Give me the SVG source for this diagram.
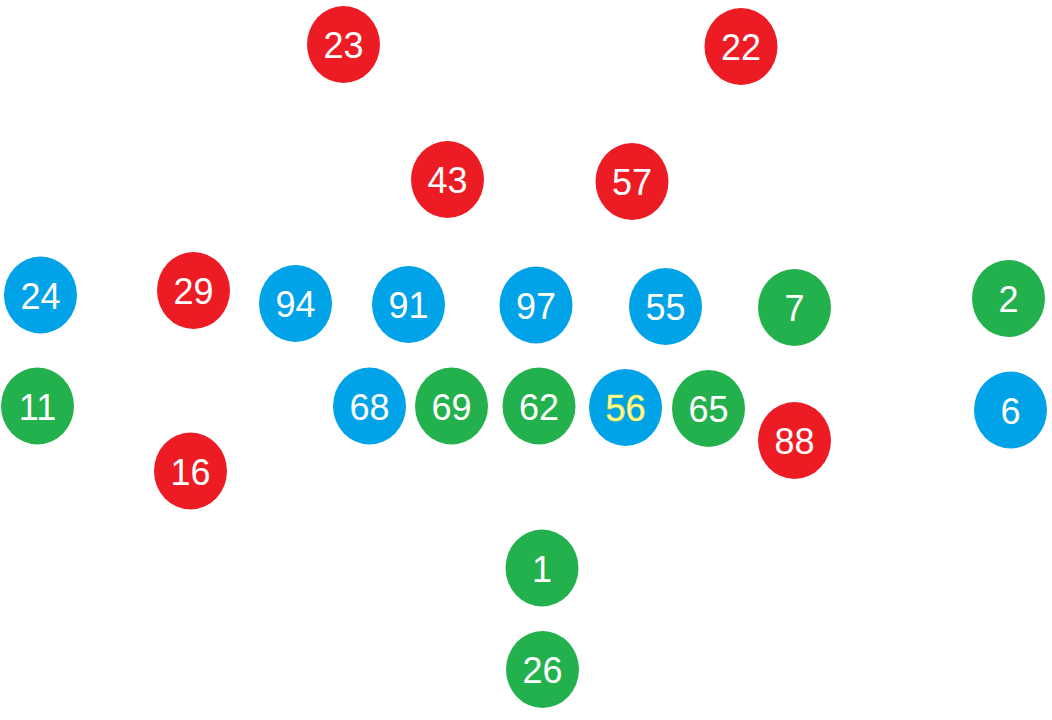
<svg xmlns="http://www.w3.org/2000/svg" width="1052" height="720" viewBox="0 0 1052 720">
<style>
.r{fill:#ED1C24}.b{fill:#00A2E8}.g{fill:#22B14C}
text{font-family:"Liberation Sans",Arial,sans-serif;font-size:36px;fill:#FFFFFF;text-anchor:middle}
.y{fill:#FFFFB0;stroke:#F2E600;stroke-width:0.6}
</style>
<rect width="1052" height="720" fill="#FFFFFF"/>
<g id="connectors"></g>
<g id="n23"><ellipse class="r" cx="343.5" cy="44.5" rx="36.5" ry="38.5"/><text x="343.5" y="58">23</text></g>
<g id="n22"><ellipse class="r" cx="741" cy="46.5" rx="36.5" ry="38.5"/><text x="741" y="60">22</text></g>
<g id="n43"><ellipse class="r" cx="447.5" cy="179.5" rx="36.5" ry="38.5"/><text x="447.5" y="193">43</text></g>
<g id="n57"><ellipse class="r" cx="632" cy="181.5" rx="36.5" ry="38.5"/><text x="632" y="195">57</text></g>
<g id="n24"><ellipse class="b" cx="40.5" cy="295" rx="36.5" ry="38.5"/><text x="40.5" y="308.5">24</text></g>
<g id="n29"><ellipse class="r" cx="193.5" cy="290.5" rx="36.5" ry="38.5"/><text x="193.5" y="304">29</text></g>
<g id="n94"><ellipse class="b" cx="295.5" cy="303.5" rx="36.5" ry="38.5"/><text x="295.5" y="317">94</text></g>
<g id="n91"><ellipse class="b" cx="408.5" cy="304.5" rx="36.5" ry="38.5"/><text x="408.5" y="318">91</text></g>
<g id="n97"><ellipse class="b" cx="536" cy="305" rx="36.5" ry="38.5"/><text x="536" y="318.5">97</text></g>
<g id="n55"><ellipse class="b" cx="665.5" cy="306.5" rx="36.5" ry="38.5"/><text x="665.5" y="320">55</text></g>
<g id="n7"><ellipse class="g" cx="794.5" cy="307.5" rx="36.5" ry="38.5"/><text x="794.5" y="321">7</text></g>
<g id="n2"><ellipse class="g" cx="1008.5" cy="298.5" rx="36.5" ry="38.5"/><text x="1008.5" y="312">2</text></g>
<g id="n11"><ellipse class="g" cx="37.5" cy="406" rx="36.5" ry="38.5"/><text x="37.5" y="419.5">11</text></g>
<g id="n68"><ellipse class="b" cx="369.5" cy="406" rx="36.5" ry="38.5"/><text x="369.5" y="419.5">68</text></g>
<g id="n69"><ellipse class="g" cx="451.5" cy="406" rx="36.5" ry="38.5"/><text x="451.5" y="419.5">69</text></g>
<g id="n62"><ellipse class="g" cx="539" cy="406" rx="36.5" ry="38.5"/><text x="539" y="419.5">62</text></g>
<g id="n56"><ellipse class="b" cx="625.5" cy="407.5" rx="36.5" ry="38.5"/><text class="y" x="625.5" y="421">56</text></g>
<g id="n65"><ellipse class="g" cx="708.5" cy="408.5" rx="36.5" ry="38.5"/><text x="708.5" y="422">65</text></g>
<g id="n88"><ellipse class="r" cx="794.5" cy="440.5" rx="36.5" ry="38.5"/><text x="794.5" y="454">88</text></g>
<g id="n6"><ellipse class="b" cx="1010.5" cy="410" rx="36.5" ry="38.5"/><text x="1010.5" y="423.5">6</text></g>
<g id="n16"><ellipse class="r" cx="190.5" cy="471" rx="36.5" ry="38.5"/><text x="190.5" y="484.5">16</text></g>
<g id="n1"><ellipse class="g" cx="542" cy="568" rx="36.5" ry="38.5"/><text x="542" y="581.5">1</text></g>
<g id="n26"><ellipse class="g" cx="542.5" cy="669.5" rx="36.5" ry="38.5"/><text x="542.5" y="683">26</text></g>
</svg>
